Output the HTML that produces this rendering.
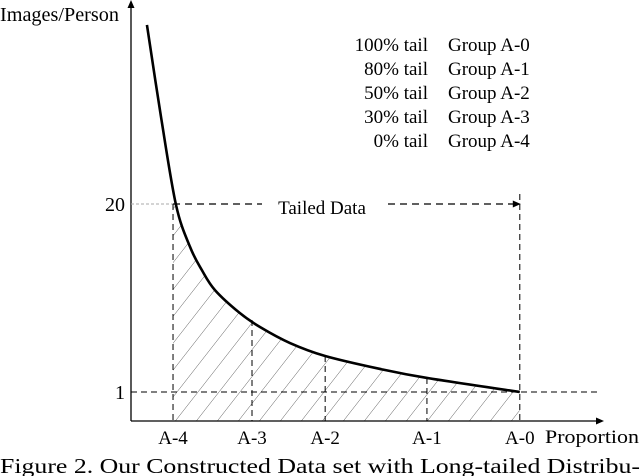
<!DOCTYPE html>
<html><head><meta charset="utf-8"><style>
html,body{margin:0;padding:0;background:#fff;}
svg{display:block;font-family:"Liberation Serif",serif;}
</style></head><body>
<svg id="chart" width="640" height="476" viewBox="0 0 640 476" xmlns="http://www.w3.org/2000/svg">
<defs>
<pattern id="hatch" patternUnits="userSpaceOnUse" width="21" height="420" patternTransform="skewX(-38)">
<line x1="0" y1="0" x2="0" y2="420" stroke="#222" stroke-width="0.8"/>
</pattern>
<clipPath id="areaClip"><path id="clipPath"/></clipPath>
</defs>
<g id="layer"></g>
<text x="0" y="21" font-size="20" textLength="119" lengthAdjust="spacingAndGlyphs">Images/Person</text>
<text x="545" y="443" font-size="19" textLength="94" lengthAdjust="spacingAndGlyphs">Proportion</text>
<text x="0" y="473" font-size="21" textLength="640" lengthAdjust="spacingAndGlyphs">Figure 2.   Our Constructed Data set with Long-tailed Distribu-</text>
<text x="322" y="214" font-size="19" text-anchor="middle">Tailed Data</text>
</svg>
<script>
const curveX = [0.034, 0.064, 0.096, 0.126, 0.151, 0.179, 0.232, 0.275, 0.339, 0.414, 0.531, 0.631, 0.829];
const curveY = [38.1, 28.8, 19.9, 15.65, 13.33, 11.3, 8.98, 7.57, 5.95, 4.64, 3.33, 2.42, 1.0];
const groupLabels = ["A-4", "A-3", "A-2", "A-1", "A-0"];
const groupX = [0.0896, 0.258, 0.414, 0.631, 0.829];
const groupY = [20, 8.28, 4.64, 2.42, 1.0];
const yTicks = [20, 1];
const legendPct = ["100% tail", "80% tail", "50% tail", "30% tail", "0%  tail"];
const legendGroup = ["Group A-0", "Group A-1", "Group A-2", "Group A-3", "Group A-4"];

const X0 = 131, XW = 469, AXY = 421;
function sx(p){ return X0 + p * XW; }
function sy(v){ return 392 - (v - 1) * 9.895; }

const NS = "http://www.w3.org/2000/svg";
const layer = document.getElementById("layer");
function mk(tag, attrs, parent){
  const e = document.createElementNS(NS, tag);
  for (const k in attrs) e.setAttribute(k, attrs[k]);
  (parent || layer).appendChild(e);
  return e;
}

const pts = curveX.map((x,i)=>[sx(x), sy(curveY[i])]);
function smooth(p){
  let d = "M" + p[0][0] + "," + p[0][1];
  for (let i=0;i<p.length-1;i++){
    const p0=p[Math.max(0,i-1)], p1=p[i], p2=p[i+1], p3=p[Math.min(p.length-1,i+2)];
    const c1=[p1[0]+(p2[0]-p0[0])/6, p1[1]+(p2[1]-p0[1])/6];
    const c2=[p2[0]-(p3[0]-p1[0])/6, p2[1]-(p3[1]-p1[1])/6];
    d += " C"+c1[0]+","+c1[1]+" "+c2[0]+","+c2[1]+" "+p2[0]+","+p2[1];
  }
  return d;
}
const curveD = smooth(pts);

const xL = sx(groupX[0]), xR = sx(groupX[groupX.length-1]);
document.getElementById("clipPath").setAttribute("d", curveD + " L" + xR + "," + AXY + " L" + pts[0][0] + "," + AXY + " Z");
const clipG = mk("g", {"clip-path":"url(#areaClip)"});
const hatch = mk("rect", {x:xL, y:0, width:xR-xL, height:AXY, fill:"url(#hatch)"}, clipG);



const yAxis = mk("line", {x1:X0, y1:AXY, x2:X0, y2:4, stroke:"#000", "stroke-width":1.3});


mk("path", {d:"M"+(X0-3.5)+",8 L"+X0+",0 L"+(X0+3.5)+",8 Z", fill:"#000"});
const xAxis = mk("line", {x1:X0, y1:AXY, x2:600, y2:AXY, stroke:"#000", "stroke-width":1.3});


mk("path", {d:"M596,"+(AXY-3.5)+" L604,"+AXY+" L596,"+(AXY+3.5)+" Z", fill:"#000"});

yTicks.forEach((v,i)=>{
  const t = mk("text", {x:X0-6, y:sy(v)+7, "font-size":20, "text-anchor":"end"});
  t.textContent = v;
  
  
});
mk("line", {x1:X0, y1:sy(20), x2:sx(groupX[0]), y2:sy(20), stroke:"#aaa", "stroke-width":1, "stroke-dasharray":"3,2"});
const base = mk("line", {x1:X0, y1:sy(1), x2:600, y2:sy(1), stroke:"#000", "stroke-width":1, "stroke-dasharray":"6,4"});



groupX.forEach((g,i)=>{
  const top = (i === groupX.length-1) ? sy(20)-10 : sy(groupY[i]);
  const ln = mk("line", {x1:sx(g), y1:top, x2:sx(g), y2:AXY, stroke:"#000", "stroke-width":1, "stroke-dasharray":"6,4"});
  
  
  const t = mk("text", {x:sx(g), y:444, "font-size":19, "text-anchor":"middle"});
  t.textContent = groupLabels[i];
  
  
});

const ar1 = mk("line", {x1:sx(groupX[0]), y1:sy(20), x2:262, y2:sy(20), stroke:"#000", "stroke-width":1.2, "stroke-dasharray":"7,5"});


const ar2 = mk("line", {x1:388, y1:sy(20), x2:xR-4, y2:sy(20), stroke:"#000", "stroke-width":1.2, "stroke-dasharray":"7,5"});


mk("path", {d:"M"+(xR-7)+","+(sy(20)-3.5)+" L"+(xR+1)+","+sy(20)+" L"+(xR-7)+","+(sy(20)+3.5)+" Z", fill:"#000"});

const c = mk("path", {d:curveD, fill:"none", stroke:"#000", "stroke-width":2.6});



legendPct.forEach((p,i)=>{
  const y = 51 + i*24;
  const a = mk("text", {x:428, y:y, "font-size":19, "text-anchor":"end", "xml:space":"preserve"});
  a.textContent = p;
  
  
  const b = mk("text", {x:448, y:y, "font-size":19});
  b.textContent = legendGroup[i];
  
  
});
</script>
</body></html>
